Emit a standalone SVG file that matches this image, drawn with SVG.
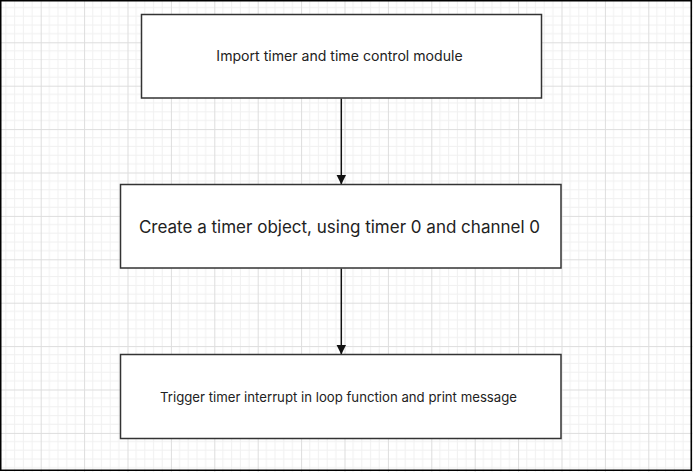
<svg xmlns="http://www.w3.org/2000/svg" width="693" height="472" viewBox="0 0 693 472">
<style>
.node rect{fill:#ffffff;stroke:#333333;stroke-width:1.5}
.node text{font-family:Inter,"Noto Sans",sans-serif;fill:#222222;text-anchor:middle}
.conn line{stroke:#111111;stroke-width:1.5}
</style>
<defs>
<pattern id="grid" patternUnits="userSpaceOnUse" x="-2.7" y="-1.1" width="43.4" height="43.4">
<path d="M8.68 0V43.4M17.36 0V43.4M26.04 0V43.4M34.72 0V43.4M0 8.68H43.4M0 17.36H43.4M0 26.04H43.4M0 34.72H43.4" stroke="#f0f0f0" stroke-width="1" fill="none"/>
<path d="M0.5 0V43.4M0 0.5H43.4" stroke="#dddddd" stroke-width="1" fill="none"/>
</pattern>
<marker id="arrow" markerUnits="userSpaceOnUse" markerWidth="10" markerHeight="10" refX="10" refY="5" orient="auto">
<path d="M0 0L10 5L0 10Z" fill="#111111"/>
</marker>
</defs>
<rect x="0" y="0" width="693" height="472" fill="#ffffff"/>
<rect x="0" y="0" width="693" height="472" fill="url(#grid)"/>
<rect x="0.75" y="0.75" width="690.5" height="469.5" fill="none" stroke="#000000" stroke-width="1.5"/>
<g class="conn">
<line x1="341.3" y1="98.5" x2="341.3" y2="184.5" marker-end="url(#arrow)"/>
<line x1="341.3" y1="268.5" x2="341.3" y2="354.5" marker-end="url(#arrow)"/>
</g>
<g id="node1" class="node">
<rect x="141.5" y="14.5" width="400" height="83.5"/>
<text x="339.5" y="60.5" font-size="14.1">Import timer and time control module</text>
</g>
<g id="node2" class="node">
<rect x="120.5" y="184.5" width="440.5" height="83.5"/>
<text x="339.5" y="232.5" font-size="17">Create a timer object, using timer 0 and channel 0</text>
</g>
<g id="node3" class="node">
<rect x="120.5" y="354.5" width="440.5" height="84"/>
<text x="338.5" y="402" font-size="13.2">Trigger timer interrupt in loop function and print message</text>
</g>
</svg>
